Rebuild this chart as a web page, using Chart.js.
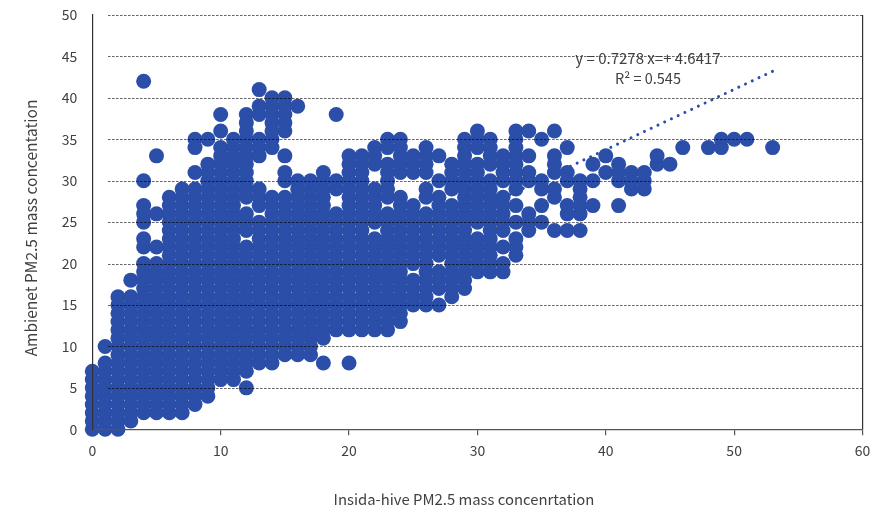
<!DOCTYPE html>
<html>
<head>
<meta charset="utf-8">
<title>PM2.5</title>
<script src="https://cdn.jsdelivr.net/npm/chart.js@4"></script>
<style>
  html, body { margin: 0; padding: 0; background: #fff; }
  canvas { display: block; }
</style>
</head>
<body>
<canvas id="chart" width="885" height="511"></canvas>
<script>
// inside-hive reading (x), one list of ambient readings (y) per reading
const xValues = [0,1,2,3,4,5,6,7,8,9,10,11,12,13,14,15,16,17,18,19,20,21,22,23,24,25,26,
  27,28,29,30,31,32,33,34,35,36,37,38,39,40,41,42,43,44,45,46,48,49,50,51,53];
const yLists = [
  [0,1,2,3,4,5,6,7],
  [0,1,2,3,4,5,6,7,8,10],
  [0,1,2,3,4,5,6,7,8,9,10,11,12,13,14,15,16],
  [1,2,3,4,5,6,7,8,9,10,11,12,13,14,15,16,18],
  [2,3,4,5,6,7,8,9,10,11,12,13,14,15,16,17,18,19,20,22,23,25,26,27,30,42],
  [2,3,4,5,6,7,8,9,10,11,12,13,14,15,16,17,18,19,20,22,26,33],
  [2,3,4,5,6,7,8,9,10,11,12,13,14,15,16,17,18,19,20,21,22,23,24,25,26,27,28],
  [2,3,4,5,6,7,8,9,10,11,12,13,14,15,16,17,18,19,20,21,22,23,24,25,26,27,28,29],
  [3,4,5,6,7,8,9,10,11,12,13,14,15,16,17,18,19,20,21,22,23,24,25,26,27,28,29,31,34,35],
  [4,5,6,7,8,9,10,11,12,13,14,15,16,17,18,19,20,21,22,23,24,25,26,27,28,29,30,31,32,35],
  [6,7,8,9,10,11,12,13,14,15,16,17,18,19,20,21,22,23,24,25,26,27,28,29,30,31,32,33,34,36,38],
  [6,7,8,9,10,11,12,13,14,15,16,17,18,19,20,21,22,23,24,25,26,27,28,29,30,31,32,33,34,35],
  [5,7,8,9,10,11,12,13,14,15,16,17,18,19,20,21,22,24,25,26,28,29,30,31,32,33,34,35,36,37,38],
  [8,9,10,11,12,13,14,15,16,17,18,19,20,21,22,23,24,25,27,28,29,33,34,35,38,39,41],
  [8,9,10,11,12,13,14,15,16,17,18,19,20,21,22,23,24,25,26,27,28,34,35,36,37,38,39,40],
  [9,10,11,12,13,14,15,16,17,18,19,20,21,22,23,24,25,26,27,28,30,31,33,36,37,38,39,40],
  [9,10,11,12,13,14,15,16,17,18,19,20,21,22,23,24,25,26,27,28,29,30,39],
  [9,10,11,12,13,14,15,16,17,18,19,20,21,22,23,24,25,26,27,28,29,30],
  [8,11,12,13,14,15,16,17,18,19,20,21,22,23,24,25,26,27,28,29,30,31],
  [12,13,14,15,16,17,18,19,20,21,22,23,24,25,26,29,30,38],
  [8,12,13,14,15,16,17,18,19,20,21,22,23,24,25,26,27,28,29,30,31,32,33],
  [12,13,14,15,16,17,18,19,20,21,22,23,24,25,26,27,28,29,30,31,32,33],
  [12,13,14,15,16,17,18,19,20,21,22,23,25,26,27,28,29,32,33,34],
  [12,13,14,15,16,17,18,19,20,21,22,23,24,25,26,28,29,30,31,32,34,35],
  [13,14,15,16,17,18,19,20,21,22,23,24,25,26,27,28,31,32,33,34,35],
  [15,16,17,18,20,21,22,23,24,25,26,27,31,32,33],
  [15,16,17,18,19,20,21,22,23,24,25,26,28,29,31,32,33,34],
  [15,17,18,19,21,22,23,24,25,26,27,28,30,33],
  [16,17,18,19,20,21,22,23,24,25,26,27,29,30,31,32],
  [17,18,19,20,21,22,23,24,25,26,27,28,29,30,31,32,33,34,35],
  [19,20,21,22,23,25,26,27,28,29,30,31,32,34,35,36],
  [19,20,21,22,23,24,25,26,27,28,29,30,32,33,34,35],
  [19,20,22,24,25,26,27,28,30,31,32,33],
  [21,22,23,25,27,29,30,31,32,33,34,35,36],
  [24,25,26,30,31,33,36],
  [25,27,29,30,35],
  [24,28,29,31,32,33,36],
  [24,26,27,30,31,34],
  [24,26,27,28,29,30],
  [27,30,32],
  [31,33],
  [27,30,31,32],
  [29,30,31],
  [29,30,31],
  [32,33],
  [32],
  [34],
  [34],
  [34,35],
  [35],
  [35],
  [34]
];

const trendX = [0, 53];
const trendY = [4.64, 43.21];

const xTicks = [0, 10, 20, 30, 40, 50, 60];
const yTicks = [0, 5, 10, 15, 20, 25, 30, 35, 40, 45, 50];
const xTitle = 'Insida-hive PM2.5 mass concenrtation';
const yTitle = 'Ambienet PM2.5 mass concentation';
const equationText = 'y = 0.7278 x=+ 4.6417';
const rSquaredText = 'R\u00b2 = 0.545';

const blue = '#2b4ea8';
const fontFamily = '"Noto Sans CJK KR", "Noto Sans", sans-serif';
const textColor = '#404040';

const points = [];
xValues.forEach(function(x, i) {
  yLists[i].forEach(function(y) {
    points.push({ x: x, y: y });
  });
});

const trendPoints = trendX.map(function(x, i) {
  return { x: x, y: trendY[i] };
});

// dashed lines stop short of the y axis and sit on top of the dots
const dashedGrid = {
  id: 'dashedGrid',
  afterDatasetsDraw(chart) {
    const ctx = chart.ctx;
    const y = chart.scales.y;
    ctx.save();
    ctx.strokeStyle = 'rgba(0,0,0,0.6)';
    ctx.lineWidth = 1;
    ctx.setLineDash([2.6, 1.4]);
    yTicks.forEach(function(v) {
      if (v === 0) return;
      const py = Math.round(y.getPixelForValue(v)) + 0.5;
      ctx.beginPath();
      ctx.moveTo(108, py);
      ctx.lineTo(chart.chartArea.right, py);
      ctx.stroke();
    });
    ctx.restore();
  }
};

const chartText = {
  id: 'chartText',
  afterDraw(chart) {
    const ctx = chart.ctx;
    ctx.save();
    ctx.fillStyle = textColor;
    ctx.textBaseline = 'middle';
    ctx.textAlign = 'center';
    ctx.font = '14.85px ' + fontFamily;
    ctx.fillText(xTitle, 464, 499);
    ctx.font = '15px ' + fontFamily;
    ctx.fillText(equationText, 648, 58);
    ctx.font = '14.5px ' + fontFamily;
    ctx.fillText(rSquaredText, 648, 78);
    ctx.font = '15.5px ' + fontFamily;
    ctx.translate(31, 228);
    ctx.rotate(-Math.PI / 2);
    ctx.fillText(yTitle, 0, 0);
    ctx.restore();
  }
};

new Chart(document.getElementById('chart'), {
  type: 'scatter',
  data: {
    datasets: [{
      data: trendPoints,
      showLine: true,
      pointRadius: 0,
      borderColor: blue,
      borderWidth: 3,
      borderCapStyle: 'round',
      borderDash: [0.01, 7.43],
      clip: false,
      order: 2
    }, {
      data: points,
      pointRadius: 7.5,
      pointBorderWidth: 0,
      backgroundColor: blue,
      clip: false,
      order: 1
    }]
  },
  plugins: [dashedGrid, chartText],
  options: {
    responsive: false,
    animation: false,
    events: [],
    layout: { padding: { left: 0, top: 15, right: 22.5, bottom: 0 } },
    plugins: { legend: { display: false }, tooltip: { enabled: false }, title: { display: false } },
    scales: {
      x: {
        type: 'linear',
        min: 0,
        max: 60,
        afterFit: function(s) { s.height = 81.7; s.paddingLeft = 0; s.paddingRight = 0; },
        afterBuildTicks: function(s) { s.ticks = xTicks.map(function(v) { return { value: v }; }); },
        grid: {
          z: 1,
          tickLength: 6,
          tickColor: function(c) { return c.tick.value === 0 ? 'rgba(0,0,0,0)' : '#555'; },
          color: function(c) { return c.tick.value === 60 ? '#333' : 'rgba(0,0,0,0)'; },
          lineWidth: 1.2
        },
        border: { display: true, color: '#555', width: 1.2, z: 1 },
        ticks: { color: textColor, font: { family: fontFamily, size: 14 }, padding: 7, maxRotation: 0 }
      },
      y: {
        type: 'linear',
        min: 0,
        max: 50,
        afterFit: function(s) { s.width = 92.3; s.paddingTop = 0; s.paddingBottom = 0; },
        afterBuildTicks: function(s) { s.ticks = yTicks.map(function(v) { return { value: v }; }); },
        grid: { display: false, drawTicks: false },
        border: { display: true, color: '#333', width: 1.2, z: 1 },
        ticks: { color: textColor, font: { family: fontFamily, size: 14 }, padding: 15 }
      }
    }
  }
});
</script>
</body>
</html>
